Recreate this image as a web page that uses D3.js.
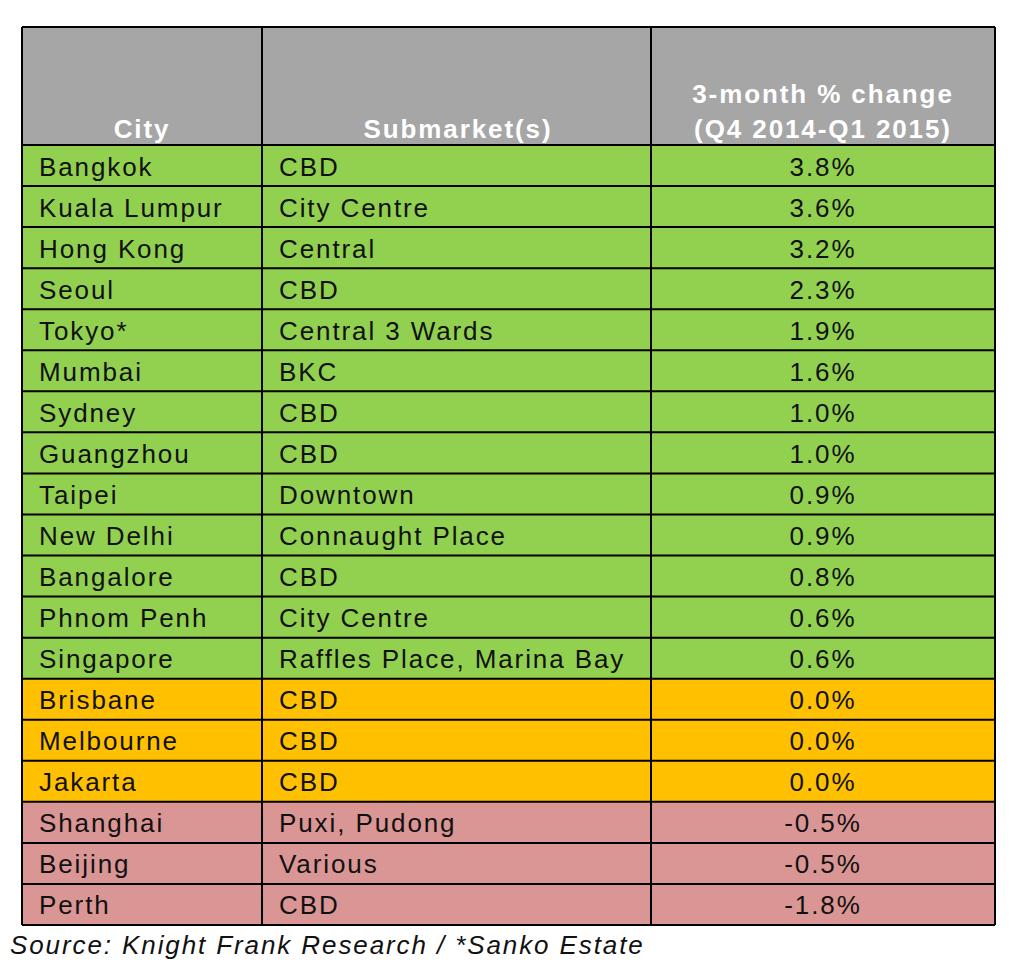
<!DOCTYPE html><html><head><meta charset="utf-8"><script src="https://cdn.jsdelivr.net/npm/d3@7"></script>
<style>body{margin:0;background:#fff}text{letter-spacing:1.9px}</style></head><body><svg id="c" width="1024" height="977"></svg>
<script>
const cities=["Bangkok","Kuala Lumpur","Hong Kong","Seoul","Tokyo*","Mumbai","Sydney","Guangzhou","Taipei","New Delhi","Bangalore","Phnom Penh","Singapore","Brisbane","Melbourne","Jakarta","Shanghai","Beijing","Perth"];
const submarkets=["CBD","City Centre","Central","CBD","Central 3 Wards","BKC","CBD","CBD","Downtown","Connaught Place","CBD","City Centre","Raffles Place, Marina Bay","CBD","CBD","CBD","Puxi, Pudong","Various","CBD"];
const changes=[3.8,3.6,3.2,2.3,1.9,1.6,1.0,1.0,0.9,0.9,0.8,0.6,0.6,0.0,0.0,0.0,-0.5,-0.5,-1.8];
const headers=["City","Submarket(s)","3-month % change|(Q4 2014-Q1 2015)"];
const svg=d3.select("#c");
const colX=[22,262,651,995];
const y=d3.scaleBand().domain(d3.range(cities.length)).range([145,925]);
const color=v=>v>0?"#92d050":v===0?"#ffc000":"#da9694";
const font="'Liberation Sans',Arial,sans-serif";
svg.append("rect").attr("x",22).attr("y",27).attr("width",973).attr("height",118).attr("fill","#a6a6a6");
const rows=svg.selectAll("g.r").data(cities).join("g");
rows.append("rect").attr("x",22).attr("y",(d,i)=>y(i)).attr("width",973).attr("height",y.bandwidth()).attr("fill",(d,i)=>color(changes[i]));
const ty=i=>y(i)+y.bandwidth()/2+10;
rows.append("text").attr("x",39).attr("y",(d,i)=>ty(i)).text(d=>d);
rows.append("text").attr("x",279).attr("y",(d,i)=>ty(i)).text((d,i)=>submarkets[i]);
rows.append("text").attr("x",823).attr("y",(d,i)=>ty(i)).attr("text-anchor","middle").text((d,i)=>changes[i].toFixed(1)+"%");
svg.selectAll("text").attr("font-family",font).attr("font-size",26).attr("fill","#111");
const hx=[142,458,823];
headers.forEach((h,j)=>{const parts=h.split("|");parts.forEach((p,k)=>{
 svg.append("text").attr("x",hx[j]).attr("y",138-(parts.length-1-k)*35).attr("text-anchor","middle")
 .attr("font-family",font).attr("font-size",26).attr("font-weight","bold").attr("fill","#fff").text(p);});});
const g=svg.append("g").attr("stroke","#000").attr("stroke-width",2);
[27,...d3.range(cities.length).map(i=>y(i)),925].forEach(v=>g.append("line").attr("x1",22).attr("x2",995).attr("y1",v).attr("y2",v));
colX.forEach(v=>g.append("line").attr("x1",v).attr("x2",v).attr("y1",27).attr("y2",925));
svg.append("text").attr("x",10).attr("y",954).attr("font-family",font).attr("font-size",26).attr("font-style","italic").attr("fill","#111").text("Source: Knight Frank Research / *Sanko Estate");
</script></body></html>
